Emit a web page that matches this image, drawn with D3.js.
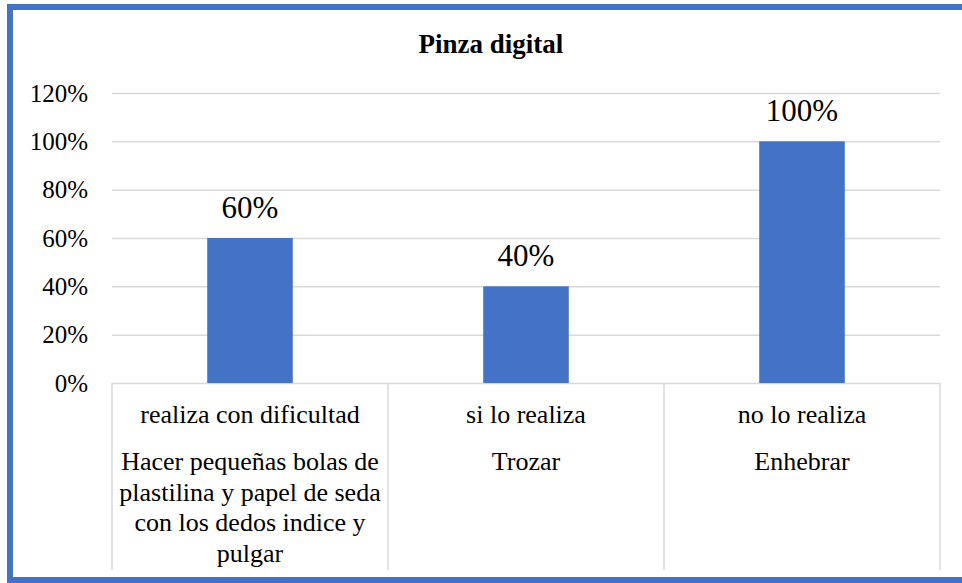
<!DOCTYPE html>
<html>
<head>
<meta charset="utf-8">
<script src="https://cdn.jsdelivr.net/npm/d3@7"></script>
<style>
  body { margin: 0; background: #fff; }
</style>
</head>
<body>
<svg width="962" height="583"></svg>
<script>
const svg = d3.select('svg');
const FONT = "'Liberation Serif', 'Times New Roman', Times, 'DejaVu Serif', serif";
svg.attr('font-family', FONT);

// data
const title = 'Pinza digital';
const levels = ['realiza con dificultad', 'si lo realiza', 'no lo realiza'];
const tasks = ['Hacer pequeñas bolas de plastilina y papel de seda con los dedos indice y pulgar', 'Trozar', 'Enhebrar'];
const values = [0.6, 0.4, 1.0];
const yTicks = [0, 0.2, 0.4, 0.6, 0.8, 1.0, 1.2];

const plot = {left: 112, right: 940, top: 93, bottom: 383};

const x = d3.scaleBand()
	.domain(levels)
	.range([plot.left, plot.right])
	.paddingInner(0)
	.paddingOuter(0);

const y = d3.scaleLinear()
	.domain([0, 1.2])
	.range([plot.bottom, plot.top]);

const pct = d3.format('.0%');

// outer frame
svg.append('rect')
	.attr('x', 10)
	.attr('y', 7)
	.attr('width', 970)
	.attr('height', 573)
	.attr('fill', 'none')
	.attr('stroke', '#4472c4')
	.attr('stroke-width', 6);

// title
svg.append('text')
	.text(title)
	.attr('x', 491)
	.attr('y', 53)
	.attr('text-anchor', 'middle')
	.attr('font-family', FONT)
	.attr('font-weight', 'bold')
	.attr('font-size', '27px')
	.attr('fill', '#000');

// gridlines + y labels
const yAxis = svg.append('g')
	.attr('transform', `translate(${plot.left},0)`)
	.call(d3.axisLeft(y).tickValues(yTicks).tickFormat(pct)
		.tickSize(-(plot.right - plot.left)).tickPadding(24));

yAxis.attr('font-family', FONT);
yAxis.select('.domain').remove();
yAxis.selectAll('line')
	.attr('stroke', '#d9d9d9')
	.attr('stroke-width', 1.5);
yAxis.selectAll('text')
	.attr('font-family', FONT)
	.attr('font-size', '25px')
	.attr('fill', '#000')
	.attr('dy', '0.32em');

// bars
const barW = x.bandwidth() * 0.31;
svg.selectAll('rect.bar').data(values)
	.enter().append('rect')
		.attr('class', 'bar')
		.attr('x', (d, i) => x(levels[i]) + (x.bandwidth() - barW) / 2)
		.attr('y', d => y(d))
		.attr('width', barW)
		.attr('height', d => y(0) - y(d))
		.attr('fill', '#4472c4');

// data labels
svg.selectAll('text.val').data(values)
	.enter().append('text')
		.attr('class', 'val')
		.text(d => pct(d))
		.attr('x', (d, i) => x(levels[i]) + x.bandwidth() / 2)
		.attr('y', d => y(d) - 20)
		.attr('text-anchor', 'middle')
		.attr('font-family', FONT)
		.attr('font-size', '31px')
		.attr('fill', '#000');

// category separators
const seps = levels.map(d => x(d)).concat([plot.right]);
svg.selectAll('line.sep').data(seps)
	.enter().append('line')
		.attr('class', 'sep')
		.attr('x1', d => d)
		.attr('x2', d => d)
		.attr('y1', plot.bottom)
		.attr('y2', 570)
		.attr('stroke', '#d9d9d9')
		.attr('stroke-width', 1.5);

// inner level labels
svg.selectAll('text.lvl').data(levels)
	.enter().append('text')
		.attr('class', 'lvl')
		.text(d => d)
		.attr('x', d => x(d) + x.bandwidth() / 2)
		.attr('y', 423)
		.attr('text-anchor', 'middle')
		.attr('font-family', FONT)
		.attr('font-size', '26px')
		.attr('fill', '#000');

// outer level labels, wrapped to the band width
const taskText = svg.selectAll('text.task').data(tasks)
	.enter().append('text')
		.attr('class', 'task')
		.attr('x', (d, i) => x(levels[i]) + x.bandwidth() / 2)
		.attr('y', 470)
		.attr('text-anchor', 'middle')
		.attr('font-family', FONT)
		.attr('font-size', '26px')
		.attr('fill', '#000');

taskText.each(function (d) {
	const el = d3.select(this);
	const cx = el.attr('x');
	const words = d.split(' ');
	let line = [];
	let ts = el.append('tspan').attr('x', cx).attr('dy', 0);
	words.forEach(w => {
		line.push(w);
		ts.text(line.join(' '));
		if (ts.node().getComputedTextLength() > 272 && line.length > 1) {
			line.pop();
			ts.text(line.join(' '));
			line = [w];
			ts = el.append('tspan').attr('x', cx).attr('dy', 30.5).text(w);
		}
	});
});
</script>
</body>
</html>
